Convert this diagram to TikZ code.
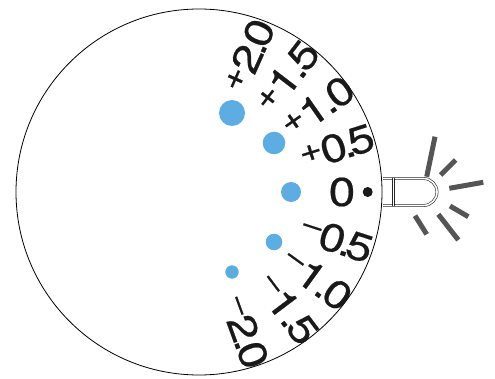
\documentclass[tikz,border=0pt]{standalone}
\usepackage{fontspec}
\setmainfont{TeX Gyre Heros}
\newfontfamily\lblfont[FakeStretch=1.2,FakeBold=0.5]{TeX Gyre Heros}
\definecolor{dotblue}{RGB}{93,173,226}
\definecolor{raygray}{RGB}{85,85,85}
\newcommand\pls{\raisebox{8pt}{\fontsize{33}{33}\selectfont+}\kern-1.5pt}
\newcommand\mns{\raisebox{10pt}{\fontsize{28}{28}\selectfont–}}
\newcommand\dotk{\kern-4.5pt.\kern-6pt}
\newcommand\dotone{\kern-3pt.\kern-4pt}
\begin{document}
\begin{tikzpicture}[x=1pt,y=1pt,
  lbl/.style={font=\lblfont\fontsize{39}{39}\selectfont, inner sep=0pt, text=black!90},
  zlbl/.style={font=\lblfont\fontsize{40}{40}\selectfont, inner sep=0pt, text=black!90},
  bdot/.style={fill=dotblue, draw=none},
  ray/.style={draw=raygray, line width=5pt},
  led/.style={draw=black!85, double=white, double distance=1.6pt, line width=0.6pt}]
\useasboundingbox (0,0) rectangle (495,378);
\coordinate (c) at (199,186);
% LED housing
\draw[led] (383,199.5) -- (423.5,199.5) arc (90:-90:13.5) -- (383,172.5);
\draw[led] (393.5,199.5) -- (393.5,172.5);
% dial
\draw[line width=0.8pt, fill=white] (c) circle (183);
% labels
\node[lbl, rotate=66]   (p20) at ([shift={(70:145)}]c)   {\pls2\dotk0};
\node[lbl, rotate=52.5] (p15) at ([shift={(52.6:145)}]c) {\pls1\dotone5};
\node[lbl, rotate=35]   (p10) at ([shift={(35.5:146)}]c) {\pls1\dotone0};
\node[lbl, rotate=17.5] (p05) at ([shift={(18:145)}]c)   {\pls0\dotk5};
\node[zlbl]             (z00) at ([shift={(0:143)}]c)    {0};
\node[lbl, rotate=-18]  (m05) at ([shift={(-19:146)}]c)  {\mns0\dotk5};
\node[lbl, rotate=-36]  (m10) at ([shift={(-36.7:147)}]c){\mns1\dotone0};
\node[lbl, rotate=-53]  (m15) at ([shift={(-53:147)}]c)  {\mns1\dotone5};
\node[lbl, rotate=-70]  (m20) at ([shift={(-72:148)}]c)  {\mns2\dotk0};
% indicator dot
\fill[black!90] (367.7,186) circle (5);
% blue dots
\fill[bdot] (232,265) circle (13);
\fill[bdot] (274,235) circle (11.3);
\fill[bdot] (291,186) circle (10);
\fill[bdot] (274,136) circle (8.3);
\fill[bdot] (232,106) circle (6.7);
% rays
\draw[ray] (435,241.3) -- (426.7,201.3);
\draw[ray] (455.7,218) -- (440.7,203);
\draw[ray] (483.3,195.7) -- (449.3,189.7);
\draw[ray] (468.3,161.3) -- (450,172);
\draw[ray] (458.3,138) -- (438.3,163.7);
\draw[ray] (426.7,143.7) -- (415,162.3);
\end{tikzpicture}
\end{document}
